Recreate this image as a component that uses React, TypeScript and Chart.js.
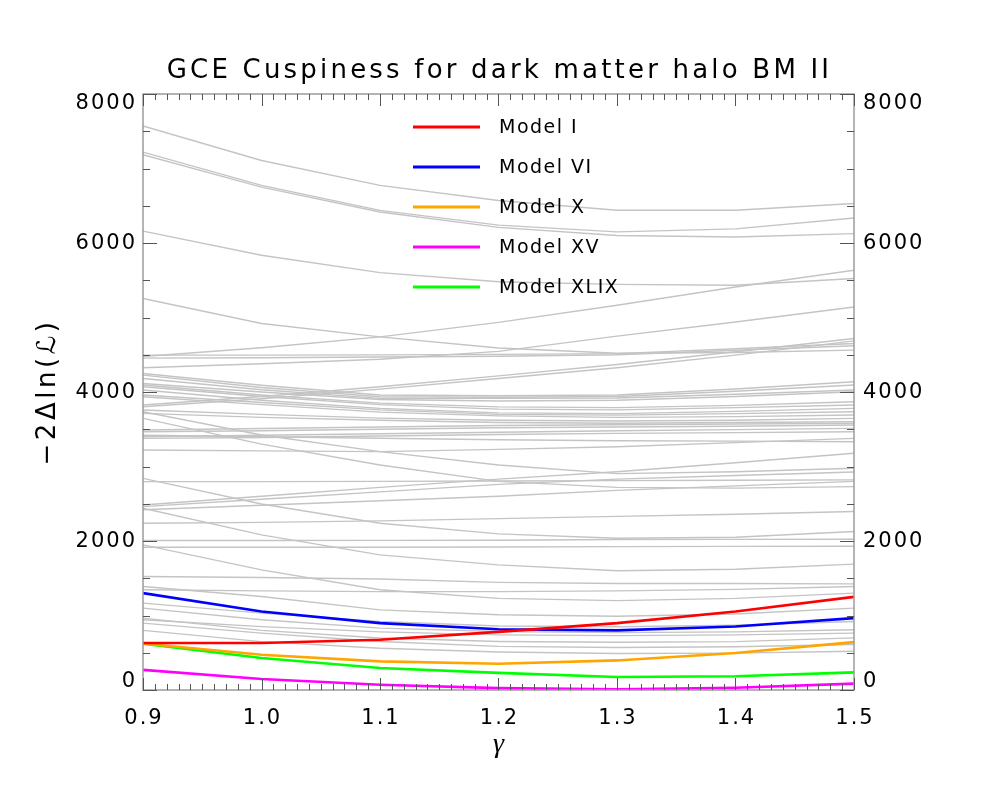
import React, { useEffect, useRef } from "react";
import { Chart, registerables } from "chart.js";

Chart.register(...registerables);

// ---------- data ----------
const gammaValues = [0.9, 1.0, 1.1, 1.2, 1.3, 1.4, 1.5];

const modelI = [630, 630, 674, 780, 898, 1054, 1250];
const modelVI = [1300, 1054, 898, 815, 800, 853, 965];
const modelX = [625, 473, 384, 353, 397, 496, 643];
const modelXV = [270, 147, 70, 25, 8, 30, 85];
const modelXLIX = [620, 429, 295, 230, 175, 185, 237];

const modelLabels = ["Model I", "Model VI", "Model X", "Model XV", "Model XLIX"];
const modelColors = ["#ff0000", "#0000ff", "#ffa500", "#ff00ff", "#00ff00"];

// all other halo models (grey curves), values at gammaValues
const greyCurves = [
  [7570, 7108, 6774, 6570, 6440, 6440, 6530],
  [7220, 6774, 6438, 6240, 6150, 6190, 6335],
  [7185, 6750, 6416, 6210, 6100, 6080, 6126],
  [6160, 5835, 5603, 5480, 5445, 5433, 5523],
  [5255, 4920, 4740, 4590, 4520, 4530, 4562],
  [4476, 4593, 4740, 4935, 5165, 5410, 5634],
  [4325, 4380, 4440, 4545, 4750, 4940, 5142],
  [4495, 4495, 4498, 4505, 4515, 4580, 4651],
  [4455, 4460, 4470, 4480, 4500, 4560, 4620],
  [3825, 3940, 4070, 4217, 4370, 4540, 4718],
  [3802, 3910, 4039, 4182, 4325, 4495, 4686],
  [4249, 4090, 3959, 3950, 3960, 4040, 4137],
  [4227, 4060, 3936, 3930, 3940, 4010, 4093],
  [4182, 4030, 3914, 3915, 3920, 3970, 4026],
  [4115, 4000, 3900, 3880, 3890, 3940, 4003],
  [4093, 3960, 3850, 3800, 3790, 3820, 3869],
  [4070, 3940, 3830, 3770, 3760, 3790, 3825],
  [4026, 3890, 3780, 3720, 3710, 3740, 3780],
  [3959, 3860, 3760, 3700, 3690, 3710, 3735],
  [3936, 3830, 3730, 3680, 3660, 3670, 3691],
  [3758, 3700, 3650, 3620, 3610, 3620, 3646],
  [3713, 3660, 3620, 3590, 3580, 3590, 3601],
  [3490, 3510, 3530, 3550, 3560, 3570, 3579],
  [3467, 3480, 3500, 3520, 3530, 3540, 3557],
  [3400, 3420, 3440, 3460, 3480, 3495, 3512],
  [3378, 3390, 3410, 3430, 3445, 3455, 3467],
  [3420, 3400, 3380, 3360, 3345, 3340, 3333],
  [3735, 3423, 3200, 3020, 2905, 2930, 2976],
  [3646, 3300, 3020, 2800, 2720, 2710, 2730],
  [3221, 3210, 3200, 3230, 3266, 3320, 3378],
  [2797, 2797, 2800, 2805, 2810, 2815, 2820],
  [2484, 2600, 2720, 2830, 2930, 3050, 3177],
  [2462, 2560, 2660, 2760, 2830, 2880, 2926],
  [2420, 2480, 2540, 2600, 2680, 2740, 2800],
  [2841, 2497, 2238, 2095, 2037, 2050, 2127],
  [2238, 2250, 2270, 2300, 2330, 2360, 2395],
  [2440, 2082, 1814, 1680, 1600, 1620, 1690],
  [2006, 2006, 2008, 2010, 2020, 2022, 2024],
  [1917, 1917, 1917, 1920, 1925, 1928, 1930],
  [1948, 1613, 1345, 1230, 1200, 1230, 1300],
  [1524, 1510, 1490, 1445, 1430, 1430, 1425],
  [1389, 1255, 1076, 1010, 990, 1020, 1099],
  [1345, 1330, 1320, 1320, 1330, 1350, 1389],
  [1166, 1032, 920, 860, 850, 870, 920],
  [1099, 943, 831, 786, 770, 780, 808],
  [965, 800, 697, 652, 640, 650, 700],
  [898, 764, 652, 585, 570, 580, 610],
  [943, 850, 780, 740, 730, 740, 764],
  [800, 650, 560, 510, 490, 495, 520],
];

const yMajorTicks = [0, 2000, 4000, 6000, 8000];
const yMinorStep = 500;
const xMajorTicks = [0.9, 1.0, 1.1, 1.2, 1.3, 1.4, 1.5];
const xMinorStep = 0.01;

const titleText = "GCE Cuspiness for dark matter halo BM II";
const yTitleText = "\u22122\u0394ln(\u2112)";
const xTitleText = "\u03b3";

const FONT = "'DejaVu Sans', 'Liberation Sans', sans-serif";

function toPoints(vals: number[]) {
  return vals.map((v, i) => ({ x: gammaValues[i], y: v }));
}

const idlAxesPlugin = {
  id: "idlAxes",
  afterDraw(chart: any) {
    const { ctx, chartArea: ca, scales } = chart;
    const xs = scales.x;
    const ys = scales.y;
    ctx.save();

    // frame
    ctx.strokeStyle = "#9c9c9c";
    ctx.lineWidth = 1.5;
    ctx.strokeRect(ca.left, ca.top, ca.right - ca.left, ca.bottom - ca.top);

    // ticks
    ctx.strokeStyle = "#555555";
    ctx.lineWidth = 1;
    ctx.beginPath();
    const yMax = yMajorTicks[yMajorTicks.length - 1];
    for (let v = yMajorTicks[0]; v <= yMax + 0.001; v += yMinorStep) {
      const y = Math.round(ys.getPixelForValue(v)) + 0.5;
      const major = yMajorTicks.indexOf(v) >= 0;
      const len = major ? 14 : 7;
      ctx.moveTo(ca.left, y);
      ctx.lineTo(ca.left + len, y);
      ctx.moveTo(ca.right, y);
      ctx.lineTo(ca.right - len, y);
    }
    const x0 = xMajorTicks[0];
    const x1 = xMajorTicks[xMajorTicks.length - 1];
    const nMinor = Math.round((x1 - x0) / xMinorStep);
    for (let i = 0; i <= nMinor; i++) {
      const v = x0 + i * xMinorStep;
      const x = Math.round(xs.getPixelForValue(v)) + 0.5;
      const major = i % 10 === 0;
      const len = major ? 12 : 6;
      ctx.moveTo(x, ca.bottom);
      ctx.lineTo(x, ca.bottom - len);
      ctx.moveTo(x, ca.top);
      ctx.lineTo(x, ca.top + len);
    }
    ctx.stroke();

    // tick labels
    ctx.fillStyle = "#000";
    ctx.font = `21px ${FONT}`;
    (ctx as any).letterSpacing = "2px";
    ctx.textBaseline = "middle";
    yMajorTicks.forEach((v) => {
      let y = ys.getPixelForValue(v);
      y = Math.min(Math.max(y, ca.top + 9), ca.bottom - 9);
      const label = String(v);
      ctx.textAlign = "right";
      ctx.fillText(label, ca.left - 6, y + 1);
      ctx.textAlign = "left";
      ctx.fillText(label, ca.right + 9, y + 1);
    });
    ctx.textAlign = "center";
    xMajorTicks.forEach((v) => {
      const x = xs.getPixelForValue(v);
      ctx.fillText(v.toFixed(1), x + 1, ca.bottom + 29);
    });

    // title
    ctx.font = `26px ${FONT}`;
    (ctx as any).letterSpacing = "3.2px";
    ctx.textAlign = "center";
    ctx.fillText(titleText, (ca.left + ca.right) / 2 + 1, ca.top - 23);

    // y title
    ctx.save();
    ctx.font = `26px ${FONT}`;
    (ctx as any).letterSpacing = "3.5px";
    ctx.translate(ca.left - 95, (ca.top + ca.bottom) / 2);
    ctx.rotate(-Math.PI / 2);
    ctx.textAlign = "center";
    ctx.fillText(yTitleText, 0, 0);
    ctx.restore();

    // x title
    ctx.font = `italic 28px 'Liberation Serif', 'DejaVu Serif', serif`;
    (ctx as any).letterSpacing = "0px";
    ctx.textAlign = "center";
    ctx.fillText(xTitleText, (ca.left + ca.right) / 2, ca.bottom + 55);

    // legend
    const legendItems = chart.data.datasets.filter((d: any) => d.showInLegend);
    ctx.font = `19px ${FONT}`;
    (ctx as any).letterSpacing = "1.5px";
    ctx.textAlign = "left";
    legendItems.forEach((d: any, i: number) => {
      const y = ca.top + 33 + i * 40;
      ctx.strokeStyle = d.borderColor;
      ctx.lineWidth = 3;
      ctx.beginPath();
      ctx.moveTo(ca.left + 270, y);
      ctx.lineTo(ca.left + 337, y);
      ctx.stroke();
      ctx.fillStyle = "#000";
      ctx.fillText(d.label, ca.left + 356, y + 1);
    });

    ctx.restore();
  },
};

export default function App() {
  const canvasRef = useRef<HTMLCanvasElement | null>(null);

  useEffect(() => {
    if (!canvasRef.current) return;
    const modelSeries = [modelI, modelVI, modelX, modelXV, modelXLIX];
    const coloured = modelSeries.map((vals, i) => ({
      label: modelLabels[i],
      data: toPoints(vals),
      borderColor: modelColors[i],
      borderWidth: 2.6,
      pointRadius: 0,
      tension: 0,
      showInLegend: true,
    }));
    const greys = greyCurves.map((vals, i) => ({
      label: `halo ${i + 1}`,
      data: toPoints(vals),
      borderColor: "#c4c4c4",
      borderWidth: 1.4,
      pointRadius: 0,
      tension: 0,
      showInLegend: false,
    }));

    const chart = new Chart(canvasRef.current, {
      type: "line",
      data: { datasets: [...coloured, ...greys] as any },
      options: {
        responsive: false,
        animation: false,
        devicePixelRatio: 1,
        layout: { padding: { left: 143, right: 142, top: 94, bottom: 107 } },
        plugins: { legend: { display: false }, tooltip: { enabled: false } },
        scales: {
          x: { type: "linear", min: 0.9, max: 1.5, display: false },
          y: { type: "linear", min: 0, max: 8000, display: false },
        },
      },
      plugins: [idlAxesPlugin],
    });
    return () => chart.destroy();
  }, []);

  return (
    <div style={{ position: "absolute", left: 0, top: 0, width: 996, height: 797, background: "#fff" }}>
      <canvas ref={canvasRef} width={996} height={797} style={{ display: "block" }} />
    </div>
  );
}
